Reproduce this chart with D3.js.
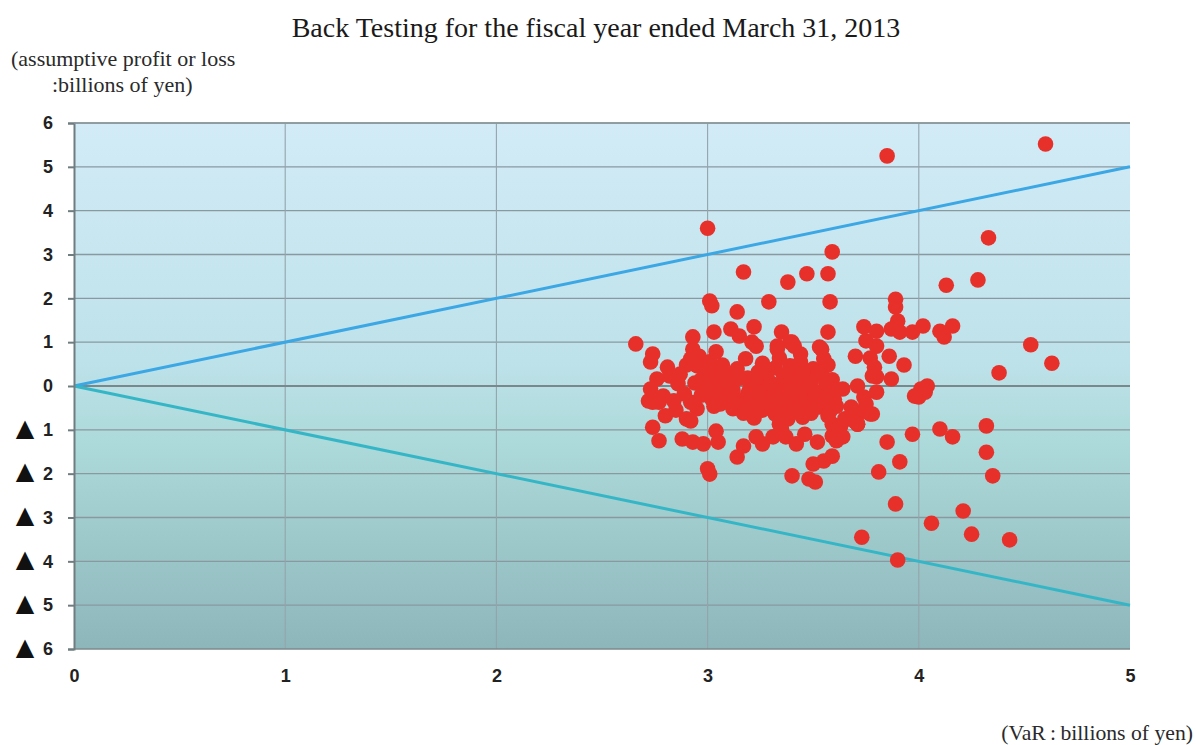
<!DOCTYPE html>
<html><head><meta charset="utf-8">
<script src="https://cdn.jsdelivr.net/npm/d3@7"></script>
<style>
body{margin:0;background:#fff;}
svg{display:block;}
</style></head>
<body>
<svg id="chart" width="1196" height="745"></svg>
<script>
const chartTitle = "Back Testing for the fiscal year ended March 31, 2013";
const yTitleLines = ["(assumptive profit or loss", ":billions of yen)"];
const xTitle = "(VaR\u2009:\u2009billions of yen)";
const xTicks = [0, 1, 2, 3, 4, 5];
const yTicks = [-6, -5, -4, -3, -2, -1, 0, 1, 2, 3, 4, 5, 6];
const upperBound = [[0, 0], [5, 5]];
const lowerBound = [[0, 0], [5, -5]];
// VaR (x) vs assumptive profit/loss (y), billions of yen
const varValues = [
3.85,4.60,3.00,3.59,4.33,4.28,4.13,3.17,3.38,3.47,3.57,
3.01,3.02,3.29,3.58,3.14,3.89,3.89,3.90,
2.66,3.03,2.93,2.93,3.11,3.15,3.22,3.21,3.35,3.33,3.40,3.57,3.53,3.55,
3.74,3.80,3.75,3.80,3.87,3.91,3.97,4.02,4.10,4.12,4.16,
3.70,3.77,3.86,3.93,3.79,3.80,3.87,3.78,
3.64,3.71,3.74,3.80,3.70,3.73,3.77,3.61,3.63,3.59,3.67,3.71,
4.01,4.04,4.00,3.98,4.03,
4.53,4.63,4.38,
3.97,4.10,4.16,4.32,3.85,3.91,4.32,4.35,3.81,3.89,4.21,4.06,4.25,4.43,3.73,3.90,
2.74,2.73,2.81,2.82,2.76,2.73,2.74,2.72,2.77,2.79,2.80,2.90,2.92,2.95,2.74,2.77,2.88,2.93,2.98,3.04,3.05,3.00,3.01,3.14,3.17,3.23,3.26,3.31,3.35,
3.37,3.40,3.48,3.51,3.50,3.55,3.59,3.42,3.46,3.52,3.64,3.61,3.34,3.32,3.35,3.52,3.46,3.45,3.59,3.65,3.71,3.68,3.75,3.78,3.57,
3.04,2.96,3.23,3.33,3.41,3.44,3.54,3.39,
2.95,2.99,3.01,3.04,3.06,3.07,3.11,3.09,3.14,3.18,3.19,3.20,3.24,3.26,3.27,3.28,3.32,3.34,3.36,3.36,3.39,3.42,3.43,3.44,3.48,3.46,3.50,3.52,3.56,3.57,3.59,3.60,
2.94,2.97,2.98,3.02,3.02,3.05,3.06,3.08,3.10,3.12,3.12,3.16,3.17,3.19,3.21,3.22,3.25,3.26,3.29,3.31,3.32,3.35,3.37,3.38,3.41,3.43,3.45,3.47,3.49,3.51,3.53,3.55,3.56,3.58,3.60,
2.97,3.00,3.03,3.07,3.09,3.13,3.15,3.18,3.22,3.24,3.28,3.30,3.33,3.37,3.39,3.42,3.45,3.49,3.51,3.54,3.57,
2.86,2.89,2.84,2.87,2.90,2.92,2.85,2.92
];
const plValues = [
5.25,5.52,3.60,3.06,3.38,2.42,2.30,2.60,2.37,2.56,2.56,
1.94,1.83,1.92,1.92,1.69,1.98,1.80,1.48,
0.96,1.23,1.12,0.84,1.30,1.14,1.35,1.00,1.23,0.91,1.00,1.23,0.89,0.62,
1.35,1.25,1.03,0.91,1.30,1.23,1.23,1.37,1.25,1.12,1.37,
0.68,0.64,0.68,0.48,0.43,0.21,0.16,0.23,
-0.07,0.00,-0.25,-0.14,-0.82,-0.59,-0.64,-0.46,-0.91,-1.14,-0.75,-0.87,
-0.07,0.00,-0.25,-0.23,-0.14,
0.94,0.52,0.30,
-1.10,-0.98,-1.16,-0.91,-1.28,-1.73,-1.51,-2.05,-1.96,-2.69,-2.85,-3.13,-3.38,-3.51,-3.45,-3.97,
0.73,0.55,0.43,0.23,0.16,-0.07,-0.37,-0.34,-0.37,-0.23,-0.68,-0.75,-0.80,-0.52,-0.94,-1.25,-1.21,-1.28,-1.32,-1.03,-1.28,-1.89,-2.01,-1.62,-1.37,-1.16,-1.32,-1.16,-0.98,
-1.16,-2.05,-2.12,-2.19,-1.78,-1.71,-1.60,-1.32,-1.10,-1.28,-1.16,-1.25,-0.87,-0.64,-0.48,-0.34,-0.57,-0.71,-0.87,-0.75,-0.87,-0.48,-0.41,-0.64,-0.68,
0.78,0.68,0.91,0.84,0.91,0.73,0.84,1.00,
0.46,0.30,0.55,0.36,0.16,0.48,0.27,0.05,0.39,0.62,0.18,-0.05,0.32,0.52,0.11,-0.14,0.41,0.64,0.23,0.02,0.46,0.30,0.09,0.55,0.18,-0.07,0.39,0.25,0.05,0.48,0.14,-0.11,
0.07,-0.21,-0.02,-0.30,0.09,-0.16,-0.41,0.00,-0.25,-0.52,-0.09,-0.34,-0.62,-0.18,-0.46,-0.73,-0.27,-0.55,-0.07,-0.37,-0.18,-0.59,-0.30,-0.75,-0.46,-0.21,-0.05,-0.34,-0.62,-0.25,-0.48,-0.11,-0.37,-0.57,-0.30,
0.14,-0.11,-0.46,0.25,0.11,-0.30,0.18,-0.55,0.11,-0.14,0.30,0.07,-0.30,0.14,-0.09,-0.59,0.34,0.09,-0.16,0.32,-0.21,
0.05,-0.18,-0.34,0.27,0.48,0.62,-0.55,-0.37
];

const svg = d3.select("#chart");
const padL = 74, padR = 1130, padT = 123, padB = 649;
const x = d3.scaleLinear().domain([0, 5]).range([padL, padR]);
const y = d3.scaleLinear().domain([-6, 6]).range([padB, padT]);

const defs = svg.append("defs");
const grad = defs.append("linearGradient").attr("id", "bg").attr("x1", 0).attr("y1", 0).attr("x2", 0).attr("y2", 1);
grad.append("stop").attr("offset", "0%").attr("stop-color", "#d2ebf7");
grad.append("stop").attr("offset", "45%").attr("stop-color", "#bee2ea");
grad.append("stop").attr("offset", "60%").attr("stop-color", "#addada");
grad.append("stop").attr("offset", "100%").attr("stop-color", "#8db6ba");

svg.append("rect").attr("x", padL).attr("y", padT).attr("width", padR - padL).attr("height", padB - padT).attr("fill", "url(#bg)");

// grid
svg.append("g").selectAll("line").data(yTicks.filter(d => d !== 0 && d !== -6))
  .join("line").attr("x1", padL).attr("x2", padR).attr("y1", d => y(d)).attr("y2", d => y(d))
  .attr("stroke", "#8a99a0").attr("stroke-width", 1.3);
svg.append("g").selectAll("line").data(xTicks.filter(d => d > 0 && d < 5))
  .join("line").attr("y1", padT).attr("y2", padB).attr("x1", d => x(d)).attr("x2", d => x(d))
  .attr("stroke", "#93a4aa").attr("stroke-width", 1.1);
svg.append("line").attr("x1", padL).attr("x2", padR).attr("y1", y(0)).attr("y2", y(0))
  .attr("stroke", "#7a878b").attr("stroke-width", 2);
svg.append("line").attr("x1", padL).attr("x2", padR).attr("y1", padB).attr("y2", padB)
  .attr("stroke", "#7d8a8e").attr("stroke-width", 1.5);

// bound lines
const line = d3.line().x(d => x(d[0])).y(d => y(d[1]));
svg.append("path").datum(upperBound).attr("d", line).attr("stroke", "#3ba7e4").attr("stroke-width", 3).attr("fill", "none");
svg.append("path").datum(lowerBound).attr("d", line).attr("stroke", "#35b6c6").attr("stroke-width", 3).attr("fill", "none");

// points
const pts = varValues.map((v, i) => [v, plValues[i]]);
svg.append("g").selectAll("circle").data(pts).join("circle")
  .attr("cx", d => x(d[0])).attr("cy", d => y(d[1])).attr("r", 7.8)
  .attr("fill", "#e8302a");

// axes
const yAxis = d3.axisLeft(y).tickValues(yTicks).tickSize(6).tickPadding(15)
  .tickFormat(d => String(Math.abs(d)));
const gy = svg.append("g").attr("transform", `translate(${padL},0)`).call(yAxis);
gy.select(".domain").attr("stroke", "#6f7c80").attr("stroke-width", 2);
gy.selectAll(".tick line").attr("stroke", "#6f7c80").attr("stroke-width", 2);
gy.selectAll("text").attr("font-family", "Liberation Sans, Arial, sans-serif").attr("font-weight", "bold")
  .attr("font-size", 18).attr("fill", "#222");
// triangle marker for negative values
gy.selectAll(".tick").filter(d => d < 0).append("text")
  .attr("x", -49).attr("dy", "0.22em").attr("text-anchor", "middle")
  .attr("font-family", "DejaVu Sans, sans-serif").attr("font-size", 24).attr("fill", "#111")
  .text("\u25B2");
svg.append("line").attr("x1", padL).attr("x2", padR).attr("y1", padT).attr("y2", padT)
  .attr("stroke", "#8a979b").attr("stroke-width", 1.5);

const xAxis = d3.axisBottom(x).tickValues(xTicks).tickSize(0).tickPadding(20).tickFormat(d3.format("d"));
const gx = svg.append("g").attr("transform", `translate(0,${padB})`).call(xAxis);
gx.select(".domain").remove();
gx.selectAll("text").attr("font-family", "Liberation Sans, Arial, sans-serif").attr("font-weight", "bold")
  .attr("font-size", 18).attr("fill", "#222");

// titles
const serif = "Liberation Serif, Times New Roman, serif";
svg.append("text").attr("x", 596).attr("y", 37).attr("text-anchor", "middle")
  .attr("font-family", serif).attr("font-size", 28).attr("fill", "#1a1a1a")
  .text(chartTitle);
svg.append("text").attr("x", 11).attr("y", 66)
  .attr("font-family", serif).attr("font-size", 22).attr("fill", "#2a2a2a")
  .text(yTitleLines[0]);
svg.append("text").attr("x", 52).attr("y", 92)
  .attr("font-family", serif).attr("font-size", 22).attr("fill", "#2a2a2a")
  .text(yTitleLines[1]);
svg.append("text").attr("x", 1193).attr("y", 740).attr("text-anchor", "end")
  .attr("font-family", serif).attr("font-size", 21.7).attr("fill", "#2a2a2a")
  .text(xTitle);
</script>
</body></html>
